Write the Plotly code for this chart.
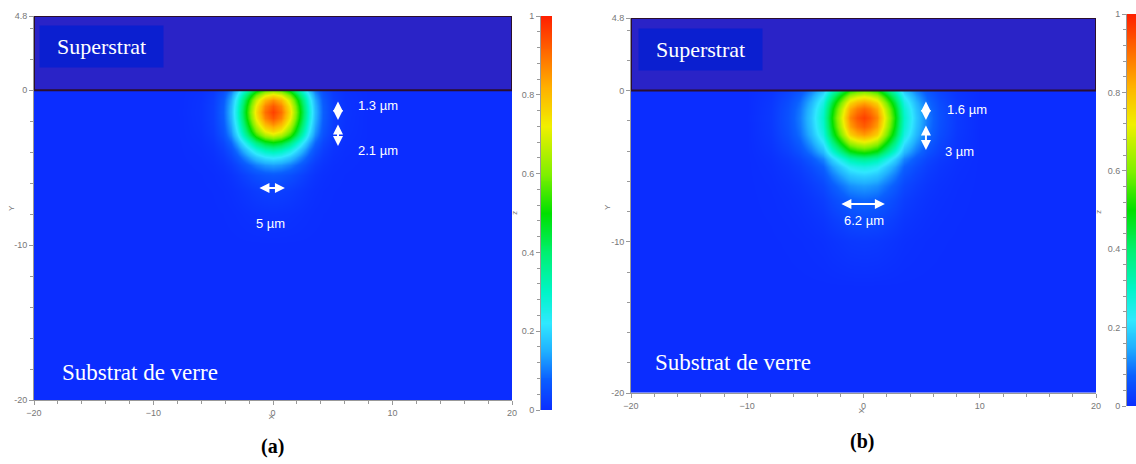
import numpy as np
import plotly.graph_objects as go

# ---------------- data ----------------
# Panel (a): horizontal intensity profile through the mode peak
xa_pos = [-20, -8, -6, -5, -4.2, -3.5, -3.0, -2.3, -1.4, -0.7, 0, 0.7, 1.4, 2.3, 3.0, 3.5, 4.2, 5, 6, 8, 20]
xa_val = [0, 0, 0.01, 0.03, 0.08, 0.17, 0.29, 0.52, 0.78, 0.94, 1.0, 0.94, 0.78, 0.52, 0.29, 0.17, 0.08, 0.03, 0.01, 0, 0]
# Panel (a): vertical intensity profile through the mode peak
ya_pos = [-20, -10, -8, -6.5, -5.5, -4.8, -4.3, -3.8, -3.4, -2.9, -2.6, -2.2, -1.8, -1.4, -1.0, -0.6, -0.3, 0]
ya_val = [0, 0, 0.01, 0.03, 0.07, 0.14, 0.24, 0.37, 0.5, 0.72, 0.8, 0.9, 0.97, 1.0, 0.97, 0.9, 0.78, 0.62]
peak_a = 0.96

# Panel (b)
xb_pos = [-20, -10, -8, -6.5, -5.5, -4.5, -3.5, -2.7, -1.8, -1.15, -0.6, 0, 0.6, 1.15, 1.8, 2.7, 3.5, 4.5, 5.5, 6.5, 8, 10, 20]
xb_val = [0, 0, 0.02, 0.06, 0.11, 0.19, 0.31, 0.53, 0.76, 0.91, 0.97, 1.0, 0.97, 0.91, 0.76, 0.53, 0.31, 0.19, 0.11, 0.06, 0.02, 0, 0]
yb_pos = [-20, -13, -10, -8.5, -7.2, -6.3, -5.6, -5.0, -4.5, -4.0, -3.4, -2.9, -2.4, -1.8, -1.2, -0.8, -0.4, 0]
yb_val = [0, 0, 0.02, 0.05, 0.09, 0.14, 0.2, 0.27, 0.38, 0.55, 0.75, 0.88, 0.96, 1.0, 0.95, 0.87, 0.75, 0.6]
peak_b = 0.96

x_ticks = [-20, -10, 0, 10, 20]
y_ticks = [4.8, 0, -10, -20]
y_ticktext = ["4.8", "0", "-10", "-20"]
cb_ticks = [0, 0.2, 0.4, 0.6, 0.8, 1]
cb_ticktext = ["0", "0.2", "0.4", "0.6", "0.8", "1"]
superstrat_top = 4.8

dim_labels_a = ["1.3 µm", "2.1 µm", "5 µm"]
dim_labels_b = ["1.6 µm", "3 µm", "6.2 µm"]
panel_labels = ["(a)", "(b)"]

# ---------------- styling ----------------
W, H = 1136, 464
def px(x):
    return x / W
def py(y):
    return 1 - y / H

cscale = [
    [0.0, '#0b2dff'], [0.08, '#0a60ff'], [0.15, '#20b0ff'], [0.22, '#30e8ff'],
    [0.30, '#00f5c8'], [0.40, '#00f070'], [0.50, '#00e000'], [0.60, '#80f000'],
    [0.72, '#f0f000'], [0.82, '#ffb000'], [0.92, '#ff6000'], [1.0, '#ff2000'],
]

def field(xv, yv, amp):
    return [[amp * v * h for h in xv] for v in yv]

fig = go.Figure()
fig.add_trace(go.Heatmap(x=xa_pos, y=ya_pos, z=field(xa_val, ya_val, peak_a),
                         colorscale=cscale, zmin=0, zmax=1, zsmooth='best',
                         showscale=False, xaxis='x', yaxis='y', hoverinfo='skip'))
fig.add_trace(go.Heatmap(x=xb_pos, y=yb_pos, z=field(xb_val, yb_val, peak_b),
                         colorscale=cscale, zmin=0, zmax=1, zsmooth='best',
                         showscale=False, xaxis='x2', yaxis='y2', hoverinfo='skip'))

levels = np.linspace(0, 1, 201)
for xa, ya in (('x3', 'y3'), ('x4', 'y4')):
    fig.add_trace(go.Heatmap(x=[0, 1], y=levels, z=[[v, v] for v in levels],
                             colorscale=cscale, zmin=0, zmax=1, zsmooth='best',
                             showscale=False, xaxis=xa, yaxis=ya, hoverinfo='skip'))

tickfont = dict(family='Liberation Sans', size=9, color='#777')
def main_x(dom, anchor):
    return dict(domain=dom, anchor=anchor, range=[-20, 20], tickvals=x_ticks, automargin=False,
                ticks='outside', ticklen=4, tickcolor='#999', tickfont=tickfont,
                showline=True, linecolor='#999', linewidth=1, showgrid=False, zeroline=False,
                minor=dict(ticks='outside', ticklen=3, dtick=2, tick0=0, tickcolor='#999'))
def main_y(dom, anchor):
    return dict(domain=dom, anchor=anchor, range=[-20, superstrat_top], tickvals=y_ticks,
                ticktext=y_ticktext, ticks='outside', ticklen=4, tickcolor='#999', automargin=False,
                tickfont=tickfont, showline=True, linecolor='#999', linewidth=1,
                showgrid=False, zeroline=False,
                minor=dict(ticks='outside', ticklen=3, dtick=2, tick0=0, tickcolor='#999'))
def cb_x(dom, anchor):
    return dict(domain=dom, anchor=anchor, range=[0, 1], visible=False, automargin=False)
def cb_y(dom, anchor):
    return dict(domain=dom, anchor=anchor, range=[0, 1], tickvals=cb_ticks, ticktext=cb_ticktext,
                side='left', ticks='outside', ticklen=4, tickcolor='#999', tickfont=tickfont,
                showline=True, linecolor='#999', showgrid=False, zeroline=False, automargin=False,
                minor=dict(ticks='outside', ticklen=3, dtick=0.04, tick0=0, tickcolor='#999'))

fig.update_layout(
    template='none',
    width=W, height=H, margin=dict(l=0, r=0, t=0, b=0, autoexpand=False),
    paper_bgcolor='white', plot_bgcolor='white', showlegend=False,
    xaxis=main_x([px(34), px(512)], 'y'),
    yaxis=main_y([py(400), py(16)], 'x'),
    xaxis2=main_x([px(631), px(1096)], 'y2'),
    yaxis2=main_y([py(393), py(18)], 'x2'),
    xaxis3=cb_x([px(541), px(552)], 'y3'),
    yaxis3=cb_y([py(410), py(16)], 'x3'),
    xaxis4=cb_x([px(1127), px(1136)], 'y4'),
    yaxis4=cb_y([py(406), py(14)], 'x4'),
)

# superstrat layers
for xr, yr in (('x', 'y'), ('x2', 'y2')):
    fig.add_shape(type='rect', xref=xr, yref=yr, x0=-20, x1=20, y0=0, y1=superstrat_top,
                  fillcolor='#2a23c7', line=dict(color='#2b0f2e', width=2), layer='above')

serif = 'Liberation Serif'
ann = []
def ptext(cx, cy, text, **kw):
    d = dict(xref='paper', yref='paper', x=px(cx), y=py(cy), text=text, showarrow=False,
             xanchor='center', yanchor='middle')
    d.update(kw)
    return d
# Superstrat boxes
for cx, cy in ((101.5, 46.5), (700, 49)):
    ann.append(ptext(cx, cy, 'Superstrat', font=dict(family=serif, size=22, color='white'),
                     bgcolor='#0b1fd0', width=113, height=31, borderpad=5))
# Substrate text
for cx, cy in ((140, 372), (733, 362)):
    ann.append(ptext(cx, cy, 'Substrat de verre', font=dict(family=serif, size=23, color='white')))
# panel labels
for (cx, cy), t in zip(((272, 446), (862, 441)), panel_labels):
    ann.append(ptext(cx, cy, '<b>%s</b>' % t, font=dict(family=serif, size=20, color='black')))

# axis titles
small = dict(family='Liberation Sans', size=8, color='#777')
for cx, cy, t, ang in ((11, 208, 'Y', -90), (272, 417, 'X', 90), (516, 213, 'z', 90),
                       (608, 207, 'Y', -90), (862, 411, 'X', 90), (1100, 212, 'z', 90)):
    ann.append(ptext(cx, cy, t, textangle=ang, font=small))

# dimension arrows
def arrow(xr, yr, x0, y0, x1, y1):
    return dict(xref=xr, yref=yr, axref=xr, ayref=yr, x=x1, y=y1, ax=x0, ay=y0, text='',
                showarrow=True, arrowhead=2, arrowside='end+start', arrowsize=1,
                arrowwidth=2, arrowcolor='white')
ann += [arrow('x', 'y', 5.44, -0.63, 5.44, -1.92),
        arrow('x', 'y', 5.44, -2.11, 5.44, -3.6),
        arrow('x', 'y', -1.26, -6.31, 1.0, -6.31),
        arrow('x2', 'y2', 5.37, -0.62, 5.37, -1.95),
        arrow('x2', 'y2', 5.37, -2.21, 5.37, -3.93),
        arrow('x2', 'y2', -2.03, -7.5, 1.84, -7.5)]
lblfont = dict(family='Liberation Sans', size=13, color='white')
for (xr, yr), pos, labels in ((('x', 'y'), [(8.79, -1.01), (8.79, -3.86), (-0.17, -8.57)], dim_labels_a),
                              (('x2', 'y2'), [(8.89, -1.28), (8.29, -4.0), (0.03, -8.57)], dim_labels_b)):
    for (lx, ly), t in zip(pos, labels):
        ann.append(dict(xref=xr, yref=yr, x=lx, y=ly, text=t, showarrow=False, font=lblfont,
                        xanchor='center', yanchor='middle'))

fig.update_layout(annotations=ann)
fig.write_html('out.html', config={'displayModeBar': False, 'staticPlot': True},
               post_script="document.body.style.margin='0';document.body.style.overflow='hidden';")
